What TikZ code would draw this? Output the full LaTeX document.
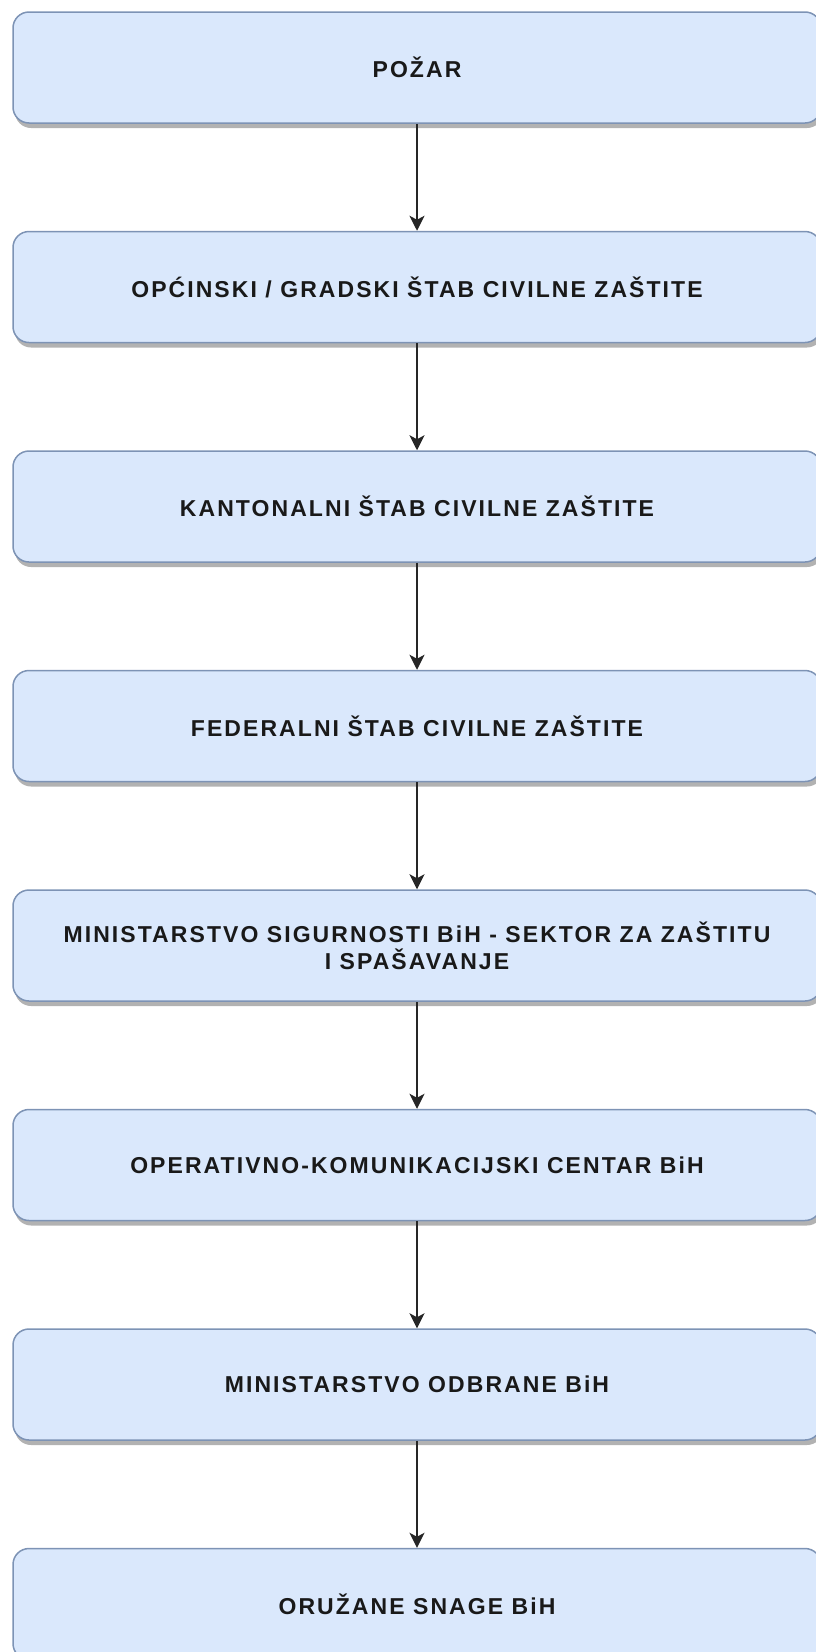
\documentclass[tikz,border=0pt]{standalone}
\usepackage{fontspec}
\setmainfont{Liberation Sans}
\newfontfamily\kutijafont[LetterSpace=9]{Liberation Sans}
\usetikzlibrary{arrows.meta,positioning,shadows}
\definecolor{kutijafill}{HTML}{DAE8FC}
\definecolor{kutijaline}{HTML}{7D93B5}
\tikzset{
  korak/.style={draw=kutijaline, fill=kutijafill, line width=1.5pt,
    rounded corners=16pt, minimum width=808pt, minimum height=111pt,
    align=center, text=black!90,
    font=\kutijafont\bfseries\fontsize{23}{27}\selectfont,
    drop shadow={shadow xshift=2pt, shadow yshift=-5pt, fill=black!60, opacity=0.5}},
  veza/.style={-{Stealth[length=15pt,width=15pt,inset=4pt]}, line width=1.5pt, black!85}
}

\begin{document}
\begin{tikzpicture}[x=1pt,y=1pt,node distance=107pt]
  \useasboundingbox (0,0) rectangle (816,-1652);

  % koraci, od vrha prema dnu
  \node[korak] (pozar) at (417,-67.5) {POŽAR};
  \node[korak, below=of pozar] (opcinski) {OPĆINSKI / GRADSKI ŠTAB CIVILNE ZAŠTITE};
  \node[korak, below=of opcinski] (kantonalni) {KANTONALNI ŠTAB CIVILNE ZAŠTITE};
  \node[korak, below=of kantonalni] (federalni) {FEDERALNI ŠTAB CIVILNE ZAŠTITE};
  \node[korak, below=of federalni] (sigurnost) {MINISTARSTVO SIGURNOSTI BiH - SEKTOR ZA ZAŠTITU\\I SPAŠAVANJE};
  \node[korak, below=of sigurnost] (okc) {OPERATIVNO-KOMUNIKACIJSKI CENTAR BiH};
  \node[korak, below=of okc] (odbrana) {MINISTARSTVO ODBRANE BiH};
  \node[korak, below=of odbrana] (oruzane) {ORUŽANE SNAGE BiH};

  % strelice
  \foreach \a/\b in {pozar/opcinski, opcinski/kantonalni, kantonalni/federalni,
                     federalni/sigurnost, sigurnost/okc, okc/odbrana, odbrana/oruzane}
    \draw[veza] (\a) -- (\b);
\end{tikzpicture}
\end{document}
